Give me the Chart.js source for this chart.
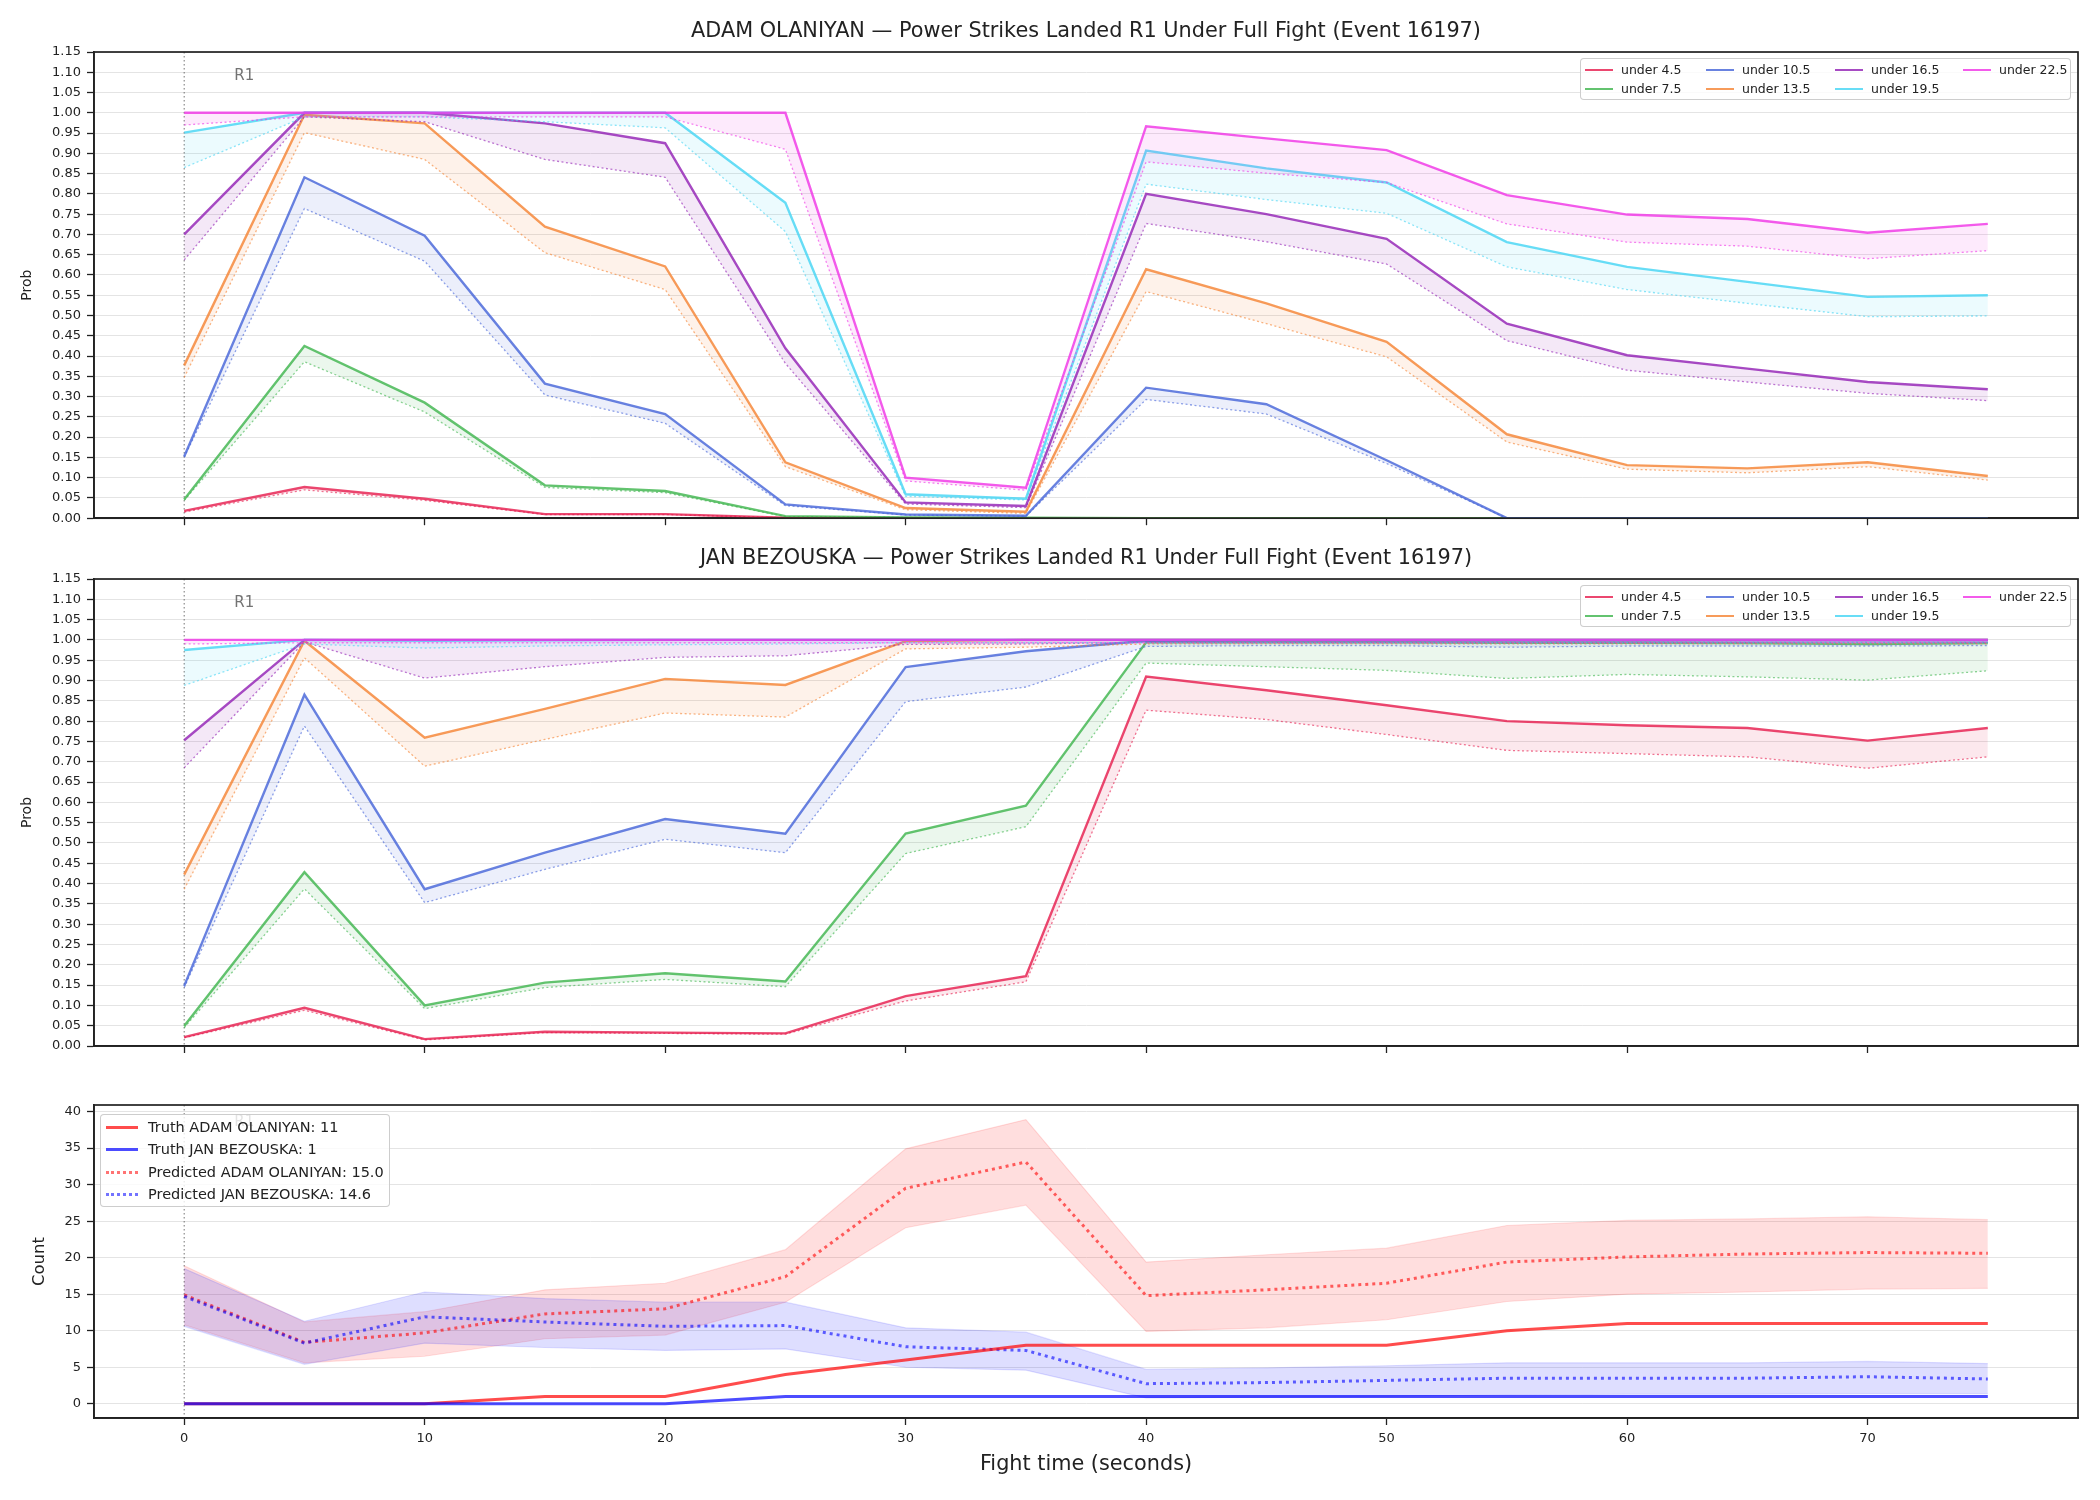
<!DOCTYPE html>
<html>
<head>
<meta charset="utf-8">
<script src="https://cdn.jsdelivr.net/npm/chart.js@4.4.1/dist/chart.umd.min.js"></script>
<style>
  body { margin: 0; background: #fff; width: 2100px; height: 1500px; position: relative; overflow: hidden; font-family: 'DejaVu Sans', sans-serif; }
  canvas { position: absolute; left: 0; }
  .legend { position: absolute; background: rgba(255,255,255,0.8); border: 1px solid rgba(200,200,200,0.9); border-radius: 4px; box-sizing: border-box; }
  .lg-handle { position: absolute; height: 0; }
  .lg-text { position: absolute; white-space: nowrap; color: #222; line-height: 1; transform: translateY(-50%); }
</style>
</head>
<body>
<canvas id="adam" width="2100" height="532" style="top:0px"></canvas>
<canvas id="jan" width="2100" height="540" style="top:530px"></canvas>
<canvas id="count" width="2100" height="430" style="top:1070px"></canvas>

<script>
// ---- data ----
const seconds = [0, 5, 10, 15, 20, 25, 30, 35, 40, 45, 50, 55, 60, 65, 70, 75]
const xTicks = [0, 10, 20, 30, 40, 50, 60, 70]
const probTicks = [0.00, 0.05, 0.10, 0.15, 0.20, 0.25, 0.30, 0.35, 0.40, 0.45, 0.50, 0.55,
  0.60, 0.65, 0.70, 0.75, 0.80, 0.85, 0.90, 0.95, 1.00, 1.05, 1.10, 1.15]
const countTicks = [0, 5, 10, 15, 20, 25, 30, 35, 40]
const thresholds = ['under 4.5', 'under 7.5', 'under 10.5', 'under 13.5', 'under 16.5', 'under 19.5', 'under 22.5']

// ADAM OLANIYAN: solid line (per threshold) and dotted lower line
const adamProb = [
  [0.018, 0.077, 0.048, 0.010, 0.010, 0.001, 0, 0, 0, 0, 0, 0, 0, 0, 0, 0],
  [0.046, 0.425, 0.285, 0.081, 0.067, 0.005, 0.002, 0.001, 0, 0, 0, 0, 0, 0, 0, 0],
  [0.152, 0.841, 0.697, 0.332, 0.257, 0.034, 0.009, 0.006, 0.322, 0.281, 0.143, 0, 0, 0, 0, 0],
  [0.377, 0.995, 0.974, 0.719, 0.621, 0.138, 0.025, 0.016, 0.614, 0.530, 0.435, 0.207, 0.131, 0.123, 0.138, 0.104],
  [0.700, 1.000, 1.000, 0.974, 0.925, 0.419, 0.039, 0.030, 0.800, 0.750, 0.689, 0.480, 0.402, 0.369, 0.336, 0.318],
  [0.951, 1.000, 1.000, 1.000, 1.000, 0.778, 0.059, 0.048, 0.907, 0.863, 0.828, 0.681, 0.620, 0.583, 0.546, 0.550],
  [1.000, 1.000, 1.000, 1.000, 1.000, 1.000, 0.100, 0.075, 0.967, 0.937, 0.908, 0.797, 0.749, 0.738, 0.704, 0.726]
]
const adamProbLow = [
  [0.015, 0.070, 0.044, 0.009, 0.009, 0.001, 0, 0, 0, 0, 0, 0, 0, 0, 0, 0],
  [0.044, 0.386, 0.262, 0.076, 0.063, 0.004, 0.002, 0.001, 0, 0, 0, 0, 0, 0, 0, 0],
  [0.150, 0.764, 0.634, 0.304, 0.234, 0.031, 0.008, 0.005, 0.293, 0.257, 0.135, 0, 0, 0, 0, 0],
  [0.347, 0.951, 0.885, 0.655, 0.564, 0.127, 0.021, 0.012, 0.559, 0.480, 0.398, 0.188, 0.121, 0.112, 0.127, 0.094],
  [0.637, 0.990, 0.978, 0.885, 0.841, 0.382, 0.035, 0.026, 0.727, 0.682, 0.627, 0.438, 0.365, 0.336, 0.308, 0.290],
  [0.865, 0.990, 0.990, 0.978, 0.963, 0.707, 0.054, 0.045, 0.824, 0.786, 0.752, 0.620, 0.564, 0.530, 0.497, 0.499],
  [0.970, 0.990, 0.990, 0.990, 0.990, 0.910, 0.092, 0.069, 0.879, 0.851, 0.828, 0.726, 0.681, 0.671, 0.640, 0.660]
]

// JAN BEZOUSKA
const janProb = [
  [0.022, 0.094, 0.017, 0.035, 0.033, 0.031, 0.123, 0.172, 0.910, 0.876, 0.839, 0.800, 0.790, 0.783, 0.752, 0.783],
  [0.049, 0.428, 0.100, 0.156, 0.179, 0.159, 0.523, 0.592, 0.994, 0.994, 0.994, 0.993, 0.993, 0.992, 0.990, 0.992],
  [0.148, 0.865, 0.386, 0.476, 0.559, 0.523, 0.933, 0.972, 0.998, 0.999, 0.999, 0.999, 0.999, 0.999, 0.999, 0.999],
  [0.422, 0.998, 0.759, 0.830, 0.904, 0.889, 0.997, 1.000, 1.000, 1.000, 1.000, 1.000, 1.000, 1.000, 1.000, 1.000],
  [0.753, 1.000, 1.000, 1.000, 1.000, 1.000, 1.000, 1.000, 1.000, 1.000, 1.000, 1.000, 1.000, 1.000, 1.000, 1.000],
  [0.975, 1.000, 0.998, 0.999, 1.000, 1.000, 1.000, 1.000, 1.000, 1.000, 1.000, 1.000, 1.000, 1.000, 1.000, 1.000],
  [1.000, 1.000, 1.000, 1.000, 1.000, 1.000, 1.000, 1.000, 1.000, 1.000, 1.000, 1.000, 1.000, 1.000, 1.000, 1.000]
]
const janProbLow = [
  [0.020, 0.088, 0.015, 0.033, 0.031, 0.029, 0.111, 0.158, 0.827, 0.804, 0.767, 0.728, 0.720, 0.712, 0.684, 0.712],
  [0.045, 0.387, 0.092, 0.144, 0.164, 0.146, 0.474, 0.540, 0.943, 0.934, 0.925, 0.905, 0.915, 0.909, 0.901, 0.924],
  [0.144, 0.788, 0.353, 0.435, 0.509, 0.476, 0.848, 0.884, 0.984, 0.986, 0.986, 0.982, 0.985, 0.985, 0.985, 0.986],
  [0.386, 0.956, 0.689, 0.755, 0.820, 0.810, 0.978, 0.982, 0.990, 0.990, 0.990, 0.990, 0.990, 0.990, 0.990, 0.990],
  [0.685, 0.995, 0.906, 0.934, 0.957, 0.961, 0.989, 0.990, 0.994, 0.994, 0.994, 0.994, 0.994, 0.994, 0.994, 0.994],
  [0.888, 0.990, 0.980, 0.985, 0.988, 0.990, 0.993, 0.993, 0.993, 0.993, 0.993, 0.993, 0.993, 0.993, 0.993, 0.993],
  [0.990, 0.993, 0.993, 0.993, 0.993, 0.993, 0.993, 0.993, 0.993, 0.993, 0.993, 0.993, 0.993, 0.993, 0.993, 0.993]
]

// counts
const truthAdam = [0, 0, 0, 1, 1, 4, 6, 8, 8, 8, 8, 10, 11, 11, 11, 11]
const truthJan = [0, 0, 0, 0, 0, 1, 1, 1, 1, 1, 1, 1, 1, 1, 1, 1]
const predAdam = [14.9, 8.4, 9.7, 12.3, 13.0, 17.4, 29.5, 33.1, 14.8, 15.6, 16.5, 19.4, 20.1, 20.5, 20.7, 20.6]
const predAdamHi = [18.9, 11.2, 12.6, 15.6, 16.5, 21.1, 34.9, 38.9, 19.4, 20.4, 21.3, 24.4, 25.1, 25.3, 25.6, 25.2]
const predAdamLo = [10.8, 5.6, 6.5, 8.9, 9.4, 13.9, 24.1, 27.2, 9.9, 10.4, 11.5, 14.0, 15.0, 15.3, 15.7, 15.8]
const predJan = [14.7, 8.3, 11.9, 11.2, 10.6, 10.7, 7.8, 7.3, 2.75, 2.9, 3.2, 3.5, 3.5, 3.5, 3.7, 3.4]
const predJanHi = [18.5, 11.3, 15.3, 14.4, 13.9, 13.9, 10.4, 9.8, 4.7, 4.9, 5.2, 5.6, 5.6, 5.6, 5.8, 5.5]
const predJanLo = [10.6, 5.4, 8.3, 7.7, 7.3, 7.5, 5.0, 4.6, 0.8, 0.9, 1.0, 1.2, 1.3, 1.3, 1.4, 1.4]

const countLegend = ['Truth ADAM OLANIYAN: 11', 'Truth JAN BEZOUSKA: 1', 'Predicted ADAM OLANIYAN: 15.0', 'Predicted JAN BEZOUSKA: 14.6']

// ---- styles ----
const lineColors = ['#e6194b', '#3cb44b', '#4363d8', '#f58231', '#911eb4', '#42d4f4', '#f032e6']
const INK = '#222'

function rgba(hex, a) {
  const n = parseInt(hex.slice(1), 16)
  return `rgba(${n >> 16}, ${(n >> 8) & 255}, ${n & 255}, ${a})`
}
const pts = arr => seconds.map((s, i) => ({ x: s, y: arr[i] }))

Chart.defaults.font.family = "'DejaVu Sans', sans-serif"
Chart.defaults.animation = false
Chart.defaults.plugins.legend.display = false
Chart.defaults.plugins.tooltip.enabled = false

// frame, round marker, titles, axis labels
const panelDeco = {
  id: 'panelDeco',
  beforeDatasetsDraw(chart) {
    const { ctx, chartArea: a, scales } = chart
    const x0 = scales.x.getPixelForValue(0)
    ctx.save()
    ctx.strokeStyle = 'rgba(80,80,80,0.8)'
    ctx.lineWidth = 1
    ctx.setLineDash([1.5, 2.5])
    ctx.beginPath()
    ctx.moveTo(x0, a.top)
    ctx.lineTo(x0, a.bottom)
    ctx.stroke()
    ctx.restore()
  },
  afterDraw(chart, args, o) {
    const { ctx, chartArea: a, scales } = chart
    ctx.save()
    // R1
    ctx.fillStyle = 'rgba(90,90,90,0.85)'
    ctx.font = "15px 'DejaVu Sans'"
    ctx.textBaseline = 'middle'
    ctx.textAlign = 'left'
    ctx.fillText('R1', scales.x.getPixelForValue(2.08), scales.y.getPixelForValue(o.r1y))
    // frame
    ctx.strokeStyle = INK
    ctx.lineWidth = 1.7
    ctx.strokeRect(a.left, a.top, a.right - a.left, a.bottom - a.top)
    ctx.fillStyle = INK
    if (o.title) {
      ctx.font = "20.8px 'DejaVu Sans'"
      ctx.textAlign = 'center'
      ctx.fillText(o.title, (a.left + a.right) / 2, a.top - 20)
    }
    if (o.xlabel) {
      ctx.font = "20.8px 'DejaVu Sans'"
      ctx.textAlign = 'center'
      ctx.fillText(o.xlabel, (a.left + a.right) / 2, o.xlabelY)
    }
    ctx.translate(o.ylabelX, (a.top + a.bottom) / 2)
    ctx.rotate(-Math.PI / 2)
    ctx.font = o.ylabelFont
    ctx.textAlign = 'center'
    ctx.fillText(o.ylabel, 0, 0)
    ctx.restore()
  }
}

function axes(opt) {
  return {
    x: {
      type: 'linear', min: -3.75, max: 78.75,
      afterBuildTicks: s => { s.ticks = xTicks.map(v => ({ value: v })) },
      afterFit: s => { s.height = opt.xh },
      ticks: { callback: v => opt.xLabels ? String(v) : '', font: { size: 13 }, color: INK, padding: 6, maxRotation: 0, autoSkip: false },
      grid: { drawOnChartArea: false, tickLength: 7, tickColor: INK, tickWidth: 1.3 },
      border: { color: INK, width: 1.7 }
    },
    y: {
      type: 'linear', min: opt.ymin, max: opt.ymax,
      afterBuildTicks: s => { s.ticks = opt.yTicks.map(v => ({ value: v })) },
      afterFit: s => { s.width = 94 },
      ticks: { callback: opt.fmt, font: { size: 13 }, color: INK, padding: 6, autoSkip: false },
      grid: { color: '#e4e4e4', lineWidth: 1, tickLength: 7, tickColor: INK, tickWidth: 1.3 },
      border: { color: INK, width: 1.7 }
    }
  }
}

function probChart(id, solid, low, title, padTop, xh) {
  const datasets = []
  thresholds.forEach((label, k) => {
    datasets.push({
      label, data: pts(solid[k]), borderColor: rgba(lineColors[k], 0.8), borderWidth: 2.4,
      pointRadius: 0, fill: '+1', backgroundColor: rgba(lineColors[k], 0.1), order: 20 - 2 * k
    })
    datasets.push({
      label: label + ' low', data: pts(low[k]), borderColor: rgba(lineColors[k], 0.6), borderWidth: 1.3,
      borderDash: [2, 2.5], pointRadius: 0, fill: false, order: 21 - 2 * k
    })
  })
  return new Chart(document.getElementById(id), {
    type: 'line',
    data: { datasets },
    options: {
      responsive: false,
      layout: { padding: { top: padTop, right: 22, left: 0, bottom: 0 } },
      scales: axes({ xh, xLabels: false, ymin: 0, ymax: 1.15, yTicks: probTicks, fmt: v => v.toFixed(2) }),
      plugins: { panelDeco: { title, r1y: 1.09, ylabel: 'Prob', ylabelX: 27, ylabelFont: "14px 'DejaVu Sans'" } }
    },
    plugins: [panelDeco]
  })
}

probChart('adam', adamProb, adamProbLow, 'ADAM OLANIYAN \u2014 Power Strikes Landed R1 Under Full Fight (Event 16197)', 52, 12)
probChart('jan', janProb, janProbLow, 'JAN BEZOUSKA \u2014 Power Strikes Landed R1 Under Full Fight (Event 16197)', 49, 24)

// count panel
const RED = '#ff0000', BLUE = '#0000ff'
new Chart(document.getElementById('count'), {
  type: 'line',
  data: {
    datasets: [
      { data: pts(truthJan), borderColor: rgba(BLUE, 0.7), borderWidth: 3, pointRadius: 0, fill: false },
      { data: pts(truthAdam), borderColor: rgba(RED, 0.7), borderWidth: 3, pointRadius: 0, fill: false },
      { data: pts(predJan), borderColor: rgba(BLUE, 0.6), borderWidth: 3, borderDash: [3, 4], pointRadius: 0, fill: false },
      { data: pts(predAdam), borderColor: rgba(RED, 0.6), borderWidth: 3, borderDash: [3, 4], pointRadius: 0, fill: false },
      { data: pts(predJanHi), borderColor: rgba(BLUE, 0.12), borderWidth: 1.2, pointRadius: 0, fill: '+1', backgroundColor: rgba(BLUE, 0.13) },
      { data: pts(predJanLo), borderColor: rgba(BLUE, 0.12), borderWidth: 1.2, pointRadius: 0, fill: false },
      { data: pts(predAdamHi), borderColor: rgba(RED, 0.12), borderWidth: 1.2, pointRadius: 0, fill: '+1', backgroundColor: rgba(RED, 0.13) },
      { data: pts(predAdamLo), borderColor: rgba(RED, 0.12), borderWidth: 1.2, pointRadius: 0, fill: false }
    ]
  },
  options: {
    responsive: false,
    layout: { padding: { top: 35, right: 22, left: 0, bottom: 0 } },
    scales: axes({ xh: 82, xLabels: true, ymin: -1.95, ymax: 40.9, yTicks: countTicks, fmt: v => String(v) }),
    plugins: { panelDeco: { r1y: 38.6, ylabel: 'Count', ylabelX: 40, ylabelFont: "16.5px 'DejaVu Sans'", xlabel: 'Fight time (seconds)', xlabelY: 395 } }
  },
  plugins: [panelDeco]
})

// ---- legends (HTML) ----
function legendBox(left, top, w, h) {
  const box = document.createElement('div')
  box.className = 'legend'
  Object.assign(box.style, { left: left + 'px', top: top + 'px', width: w + 'px', height: h + 'px' })
  document.body.appendChild(box)
  return box
}
function legendItem(box, x, y, len, gap, text, color, lw, style, size) {
  const hd = document.createElement('div')
  hd.className = 'lg-handle'
  Object.assign(hd.style, { left: x + 'px', top: (y - lw / 2) + 'px', width: len + 'px', borderTop: `${lw}px ${style} ${color}` })
  const tx = document.createElement('div')
  tx.className = 'lg-text'
  tx.textContent = text
  Object.assign(tx.style, { left: (x + len + gap) + 'px', top: y + 'px', fontSize: size + 'px' })
  box.appendChild(hd)
  box.appendChild(tx)
}

const colX = [4, 125, 254, 382]
const rowY = [11, 30]
;[58, 585].forEach(top => {
  const box = legendBox(1580, top, 491, 42)
  thresholds.forEach((t, k) => {
    legendItem(box, colX[Math.floor(k / 2)], rowY[k % 2], 28, 8, t, rgba(lineColors[k], 0.8), 2.6, 'solid', 12.5)
  })
})

const cbox = legendBox(100, 1114, 290, 93)
const cRows = [12, 34, 57, 79]
legendItem(cbox, 5, cRows[0], 32, 10, countLegend[0], rgba(RED, 0.7), 3, 'solid', 14.5)
legendItem(cbox, 5, cRows[1], 32, 10, countLegend[1], rgba(BLUE, 0.7), 3, 'solid', 14.5)
legendItem(cbox, 5, cRows[2], 32, 10, countLegend[2], rgba(RED, 0.55), 3, 'dotted', 14.5)
legendItem(cbox, 5, cRows[3], 32, 10, countLegend[3], rgba(BLUE, 0.55), 3, 'dotted', 14.5)
</script>
</body>
</html>
